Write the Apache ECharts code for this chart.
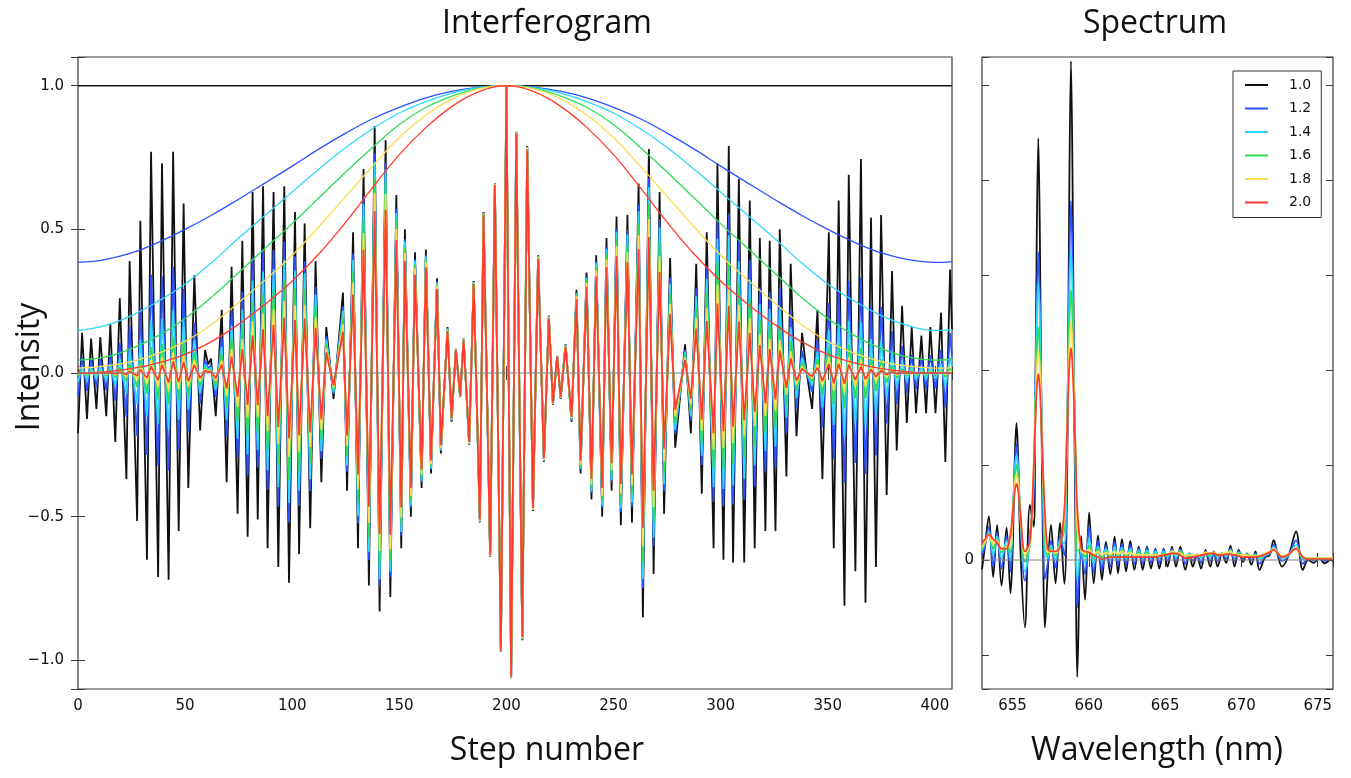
<!DOCTYPE html>
<html>
<head>
<meta charset="utf-8">
<script src="https://cdn.jsdelivr.net/npm/echarts@6/dist/echarts.min.js"></script>
<style>
  html, body { margin: 0; padding: 0; background: #ffffff; }
  #chart { width: 1351px; height: 778px; }
</style>
</head>
<body>
<div id="chart"></div>
<script>
// Apodization factors shown in the legend and the colour used for each.
const apodLabels = ['1.0', '1.2', '1.4', '1.6', '1.8', '2.0'];
const apodColors = ['#111111', '#2a52ff', '#2fd8ff', '#2edc55', '#ffdc50', '#ff3b2c'];

// Raw interferogram: step positions of its turning points and the intensity there.
const stepPositions = [
  0, 1.9, 4.2, 6.1, 8.6, 10.4, 13.2, 15.1, 17.4, 19.5,
  22.6, 24.1, 27.6, 29.1, 32.2, 34.1, 37.4, 39.2, 42.3, 44.4,
  47.0, 49.3, 51.5, 54.3, 57.0, 59.3, 60.8, 62.1, 64.3, 67.1,
  69.4, 71.7, 74.5, 76.7, 79.2, 81.5, 83.9, 86.4, 88.5, 91.3,
  93.5, 96.3, 98.5, 101.3, 103.2, 105.8, 108.4, 110.9, 113.6, 115.9,
  119.3, 123.7, 125.6, 128.4, 130.7, 133.3, 135.8, 138.5, 140.8, 143.6,
  145.8, 148.6, 150.9, 152.6, 155.4, 157.3, 160.4, 162.4, 164.8, 167.6,
  169.4, 172.5, 174.4, 176.4, 178.4, 180.0, 182.6, 184.7, 187.6, 189.3,
  192.4, 194.6, 197.4, 200, 202.2, 204.6, 207.4, 209.7, 212.4, 214.8,
  217.5, 219.8, 221.7, 223.7, 225.3, 227.6, 230.4, 232.7, 234.6, 237.4,
  239.7, 241.9, 244.7, 246.7, 249.1, 251.4, 253.4, 256.5, 258.6, 261.7,
  263.7, 266.5, 268.7, 271.5, 273.6, 276.4, 278.8, 283.4, 286.1, 288.6,
  291.2, 293.5, 296.7, 298.5, 301.3, 303.8, 305.8, 308.5, 311.0, 313.6,
  315.9, 318.3, 320.9, 322.9, 325.6, 327.6, 330.7, 332.7, 335.4, 338.0,
  340.0, 342.7, 345.2, 347.5, 350.5, 352.8, 355.1, 357.8, 359.8, 362.9,
  365.5, 367.6, 370.2, 372.5, 374.9, 377.5, 380.0, 382.2, 384.7, 386.9,
  389.2, 391.2, 393.7, 395.9, 397.9, 400.3, 402.9, 404.9, 407.1, 408
];
const rawInterferogram = [
  -0.21, 0.14, -0.16, 0.12, -0.125, 0.125, -0.15, 0.17, -0.24, 0.26,
  -0.37, 0.39, -0.515, 0.53, -0.65, 0.77, -0.71, 0.73, -0.72, 0.77,
  -0.55, 0.59, -0.40, 0.34, -0.20, 0.08, 0.03, 0.05, -0.15, 0.22,
  -0.38, 0.37, -0.49, 0.46, -0.57, 0.63, -0.51, 0.65, -0.61, 0.63,
  -0.675, 0.65, -0.73, 0.56, -0.63, 0.52, -0.54, 0.39, -0.38, 0.16,
  -0.09, 0.28, -0.41, 0.49, -0.61, 0.71, -0.74, 0.86, -0.83, 0.81,
  -0.78, 0.62, -0.61, 0.50, -0.50, 0.42, -0.40, 0.43, -0.35, 0.33,
  -0.28, 0.16, -0.17, 0.084, -0.084, 0.12, -0.25, 0.32, -0.52, 0.56,
  -0.64, 0.66, -0.97, 1.0, -1.06, 0.84, -0.93, 0.79, -0.48, 0.41,
  -0.31, 0.20, -0.11, 0.06, -0.09, 0.10, -0.17, 0.29, -0.35, 0.35,
  -0.44, 0.41, -0.50, 0.47, -0.41, 0.545, -0.53, 0.55, -0.52, 0.66,
  -0.85, 0.78, -0.70, 0.63, -0.49, 0.40, -0.26, 0.10, -0.21, 0.38,
  -0.42, 0.49, -0.61, 0.73, -0.65, 0.79, -0.66, 0.675, -0.66, 0.60,
  -0.61, 0.47, -0.55, 0.46, -0.55, 0.50, -0.36, 0.38, -0.22, 0.14,
  0.01, -0.125, 0.22, -0.37, 0.49, -0.61, 0.60, -0.81, 0.69, -0.69,
  0.745, -0.80, 0.54, -0.675, 0.55, -0.425, 0.355, -0.27, 0.234, -0.174,
  0.16, -0.14, 0.13, -0.14, 0.16, -0.14, 0.21, -0.31, 0.36, 0.15
];

// Apodization windows, tabulated along the step axis (symmetric about step 200).
const windowSteps = [
  0, 12.5, 25, 37.5, 50, 62.5, 75, 87.5, 100, 112.5, 125, 137.5, 150, 162.5, 175, 187.5, 200,
  212.5, 225, 237.5, 250, 262.5, 275, 287.5, 300, 312.5, 325, 337.5, 350, 362.5, 375, 387.5, 400, 408
];
const window10 = windowSteps.map(() => 1);
const window12 = [
  0.385, 0.395, 0.418, 0.455, 0.50, 0.55, 0.605, 0.662, 0.72, 0.78, 0.835, 0.885, 0.925, 0.958, 0.981, 0.995, 1.0,
  0.995, 0.981, 0.958, 0.925, 0.885, 0.835, 0.78, 0.72, 0.662, 0.605, 0.55, 0.50, 0.455, 0.418, 0.395, 0.385, 0.388
];
const window14 = [
  0.148, 0.165, 0.20, 0.25, 0.31, 0.385, 0.47, 0.55, 0.63, 0.71, 0.785, 0.85, 0.905, 0.945, 0.975, 0.994, 1.0,
  0.994, 0.975, 0.945, 0.905, 0.85, 0.785, 0.71, 0.63, 0.55, 0.47, 0.385, 0.31, 0.25, 0.20, 0.165, 0.148, 0.151
];
const window16 = [
  0.045, 0.055, 0.085, 0.13, 0.19, 0.265, 0.35, 0.435, 0.52, 0.61, 0.70, 0.785, 0.865, 0.925, 0.965, 0.992, 1.0,
  0.992, 0.965, 0.925, 0.865, 0.785, 0.70, 0.61, 0.52, 0.435, 0.35, 0.265, 0.19, 0.13, 0.085, 0.055, 0.045, 0.047
];
const window18 = [
  0.017, 0.024, 0.04, 0.068, 0.11, 0.17, 0.245, 0.325, 0.41, 0.51, 0.615, 0.72, 0.82, 0.898, 0.955, 0.99, 1.0,
  0.99, 0.955, 0.898, 0.82, 0.72, 0.615, 0.51, 0.41, 0.325, 0.245, 0.17, 0.11, 0.068, 0.04, 0.024, 0.017, 0.018
];
const window20 = [
  0.0, 0.004, 0.015, 0.035, 0.065, 0.11, 0.17, 0.24, 0.32, 0.415, 0.525, 0.645, 0.76, 0.855, 0.93, 0.98, 1.0,
  0.98, 0.93, 0.855, 0.76, 0.645, 0.525, 0.415, 0.32, 0.24, 0.17, 0.11, 0.065, 0.035, 0.015, 0.004, 0.0, 0.001
];

// Spectra obtained with each window.
const wavelengthNm = [
  653.00, 653.20, 653.45, 653.73, 653.99, 654.28, 654.61, 654.87, 655.00, 655.10,
  655.18, 655.26, 655.34, 655.42, 655.52, 655.81, 656.14, 656.39, 656.49, 656.59,
  656.69, 656.79, 656.89, 656.99, 657.12, 657.30, 657.52, 657.82, 658.11, 658.40,
  658.53, 658.63, 658.73, 658.83, 658.93, 659.03, 659.13, 659.24, 659.50, 659.75,
  660.02, 660.32, 660.60, 660.86, 661.12, 661.41, 661.69, 661.91, 662.17, 662.44,
  662.72, 662.98, 663.27, 663.53, 663.81, 664.07, 664.36, 664.62, 664.90, 665.16,
  665.45, 665.71, 666.00, 666.32, 666.59, 666.81, 667.09, 667.35, 667.64, 667.96,
  668.19, 668.44, 668.73, 669.00, 669.28, 669.55, 669.82, 670.10, 670.37, 670.65,
  670.92, 671.18, 671.55, 671.85, 672.11, 672.38, 672.66, 673.10, 673.58, 674.02,
  674.37, 674.74, 675.07, 675.46, 675.83, 676.00
];
const spectrum10 = [
  -0.10, 0.15, 0.46, -0.18, 0.37, -0.27, 0.34, -0.35, 0.05, 0.75,
  1.22, 1.44, 1.22, 0.75, 0.10, -0.71, 0.58, 0.35, 1.60, 3.44,
  4.44, 3.44, 1.60, 0.20, -0.71, -0.15, 0.37, -0.245, 0.39, -0.25,
  0.25, 1.89, 4.07, 5.25, 4.07, 1.89, 0.25, -1.23, 0.25, -0.42,
  0.50, -0.245, 0.26, -0.21, 0.19, -0.15, 0.245, -0.14, 0.22, -0.12,
  0.20, -0.105, 0.14, -0.105, 0.14, -0.09, 0.12, -0.09, 0.12, -0.07,
  0.14, -0.07, 0.14, -0.105, 0.07, -0.07, 0.05, -0.09, 0.105, -0.07,
  0.09, -0.07, 0.07, -0.03, 0.15, -0.07, 0.105, -0.02, 0.07, -0.05,
  0.09, -0.105, 0.03, 0.05, 0.21, 0.05, -0.07, 0.05, 0.30, -0.105,
  0.0, -0.03, 0.02, -0.035, 0.0, -0.01
];
const spectrum12 = [
  0.05, 0.15, 0.35, -0.07, 0.29, -0.09, 0.25, -0.12, 0.38, 0.78,
  1.09, 1.22, 1.09, 0.78, 0.38, -0.22, 0.27, 0.68, 1.62, 2.72,
  3.24, 2.72, 1.62, 0.68, -0.20, -0.05, 0.20, -0.08, 0.25, 0.05,
  0.79, 1.89, 3.18, 3.78, 3.18, 1.89, 0.79, -0.50, 0.10, -0.15,
  0.36, -0.13, 0.20, -0.11, 0.15, -0.07, 0.19, -0.06, 0.17, -0.05,
  0.16, -0.04, 0.12, -0.04, 0.12, -0.03, 0.11, -0.03, 0.11, -0.01,
  0.12, -0.01, 0.11, -0.04, 0.07, -0.01, 0.06, -0.03, 0.09, -0.01,
  0.08, -0.01, 0.07, 0.01, 0.12, -0.01, 0.09, 0.01, 0.06, 0.0,
  0.07, -0.04, 0.04, 0.06, 0.16, 0.06, -0.01, 0.05, 0.21, -0.04,
  0.01, 0.0, 0.02, -0.01, 0.01, 0.01
];
const spectrum14 = [
  0.10, 0.18, 0.30, 0.05, 0.25, 0.02, 0.20, 0.0, 0.44, 0.77,
  1.01, 1.10, 1.01, 0.77, 0.44, -0.12, 0.20, 0.85, 1.69, 2.55,
  2.93, 2.55, 1.69, 0.85, 0.05, 0.02, 0.15, 0.0, 0.20, 0.18,
  0.95, 1.89, 2.85, 3.27, 2.85, 1.89, 0.95, -0.20, 0.10, -0.04,
  0.23, -0.04, 0.14, -0.02, 0.12, 0.0, 0.14, 0.0, 0.13, 0.01,
  0.12, 0.02, 0.10, 0.02, 0.10, 0.02, 0.09, 0.02, 0.09, 0.03,
  0.10, 0.03, 0.10, 0.02, 0.07, 0.03, 0.06, 0.02, 0.08, 0.03,
  0.08, 0.03, 0.07, 0.04, 0.11, 0.03, 0.08, 0.04, 0.06, 0.03,
  0.06, 0.01, 0.05, 0.07, 0.14, 0.07, 0.02, 0.05, 0.16, 0.01,
  0.02, 0.01, 0.02, 0.01, 0.02, 0.02
];
const spectrum16 = [
  0.12, 0.19, 0.28, 0.12, 0.22, 0.08, 0.15, 0.08, 0.47, 0.75,
  0.93, 1.00, 0.93, 0.75, 0.47, -0.02, 0.17, 0.90, 1.57, 2.19,
  2.45, 2.19, 1.57, 0.90, 0.22, 0.05, 0.12, 0.05, 0.17, 0.33,
  1.05, 1.82, 2.54, 2.84, 2.54, 1.82, 1.05, 0.10, 0.10, 0.03,
  0.15, 0.02, 0.11, 0.03, 0.09, 0.04, 0.10, 0.04, 0.10, 0.04,
  0.09, 0.04, 0.08, 0.04, 0.08, 0.04, 0.07, 0.04, 0.07, 0.05,
  0.09, 0.06, 0.09, 0.04, 0.06, 0.04, 0.05, 0.04, 0.08, 0.05,
  0.08, 0.05, 0.07, 0.06, 0.09, 0.05, 0.07, 0.05, 0.06, 0.04,
  0.05, 0.03, 0.06, 0.08, 0.12, 0.07, 0.03, 0.06, 0.13, 0.02,
  0.02, 0.02, 0.02, 0.02, 0.02, 0.02
];
const spectrum18 = [
  0.13, 0.19, 0.27, 0.17, 0.20, 0.11, 0.14, 0.14, 0.48, 0.71,
  0.85, 0.90, 0.85, 0.71, 0.48, 0.05, 0.18, 0.96, 1.52, 2.01,
  2.20, 2.01, 1.52, 0.96, 0.40, 0.08, 0.10, 0.07, 0.15, 0.43,
  1.10, 1.73, 2.28, 2.50, 2.28, 1.73, 1.10, 0.35, 0.10, 0.07,
  0.11, 0.06, 0.09, 0.05, 0.08, 0.06, 0.09, 0.06, 0.09, 0.06,
  0.08, 0.05, 0.06, 0.05, 0.06, 0.05, 0.06, 0.05, 0.06, 0.06,
  0.09, 0.08, 0.07, 0.04, 0.05, 0.05, 0.05, 0.05, 0.08, 0.07,
  0.08, 0.06, 0.07, 0.07, 0.09, 0.06, 0.06, 0.05, 0.05, 0.04,
  0.04, 0.04, 0.07, 0.09, 0.12, 0.08, 0.04, 0.06, 0.13, 0.03,
  0.02, 0.02, 0.02, 0.02, 0.02, 0.02
];
const spectrum20 = [
  0.18, 0.22, 0.27, 0.22, 0.18, 0.12, 0.12, 0.28, 0.47, 0.66,
  0.76, 0.80, 0.76, 0.66, 0.48, 0.09, 0.20, 0.98, 1.44, 1.81,
  1.96, 1.81, 1.44, 0.98, 0.50, 0.12, 0.09, 0.09, 0.13, 0.54,
  1.12, 1.64, 2.06, 2.23, 2.06, 1.64, 1.12, 0.55, 0.12, 0.09,
  0.08, 0.05, 0.03, 0.01, 0.02, 0.03, 0.03, 0.03, 0.03, 0.03,
  0.03, 0.03, 0.03, 0.03, 0.03, 0.03, 0.03, 0.04, 0.05, 0.06,
  0.07, 0.07, 0.05, 0.02, 0.02, 0.03, 0.04, 0.05, 0.06, 0.07,
  0.07, 0.05, 0.05, 0.06, 0.06, 0.05, 0.04, 0.03, 0.03, 0.03,
  0.03, 0.04, 0.06, 0.08, 0.11, 0.07, 0.03, 0.06, 0.12, 0.03,
  0.01, 0.01, 0.01, 0.01, 0.01, 0.01
];

const windows = [window10, window12, window14, window16, window18, window20];
const spectra = [spectrum10, spectrum12, spectrum14, spectrum16, spectrum18, spectrum20];

// Window value at an arbitrary step, from the tabulated window.
function windowAt(table, s) {
  for (let i = 1; i < windowSteps.length; i++) {
    if (s <= windowSteps[i]) {
      const t = (s - windowSteps[i - 1]) / (windowSteps[i] - windowSteps[i - 1]);
      return table[i - 1] + t * (table[i] - table[i - 1]);
    }
  }
  return table[table.length - 1];
}

const tickFont = 'DejaVu Sans';
const titleFont = '"Open Sans", "DejaVu Sans", sans-serif';
const frameColor = '#3a3a3a';

function fmtSigned(v) {
  return (v < 0 ? '\u2212' : '') + Math.abs(v).toFixed(1);
}

const chart = echarts.init(document.getElementById('chart'), null, { renderer: 'canvas' });

const series = [];

// Left panel: apodized interferograms (raw interferogram times each window).
apodLabels.forEach((name, k) => {
  series.push({
    name, type: 'line', xAxisIndex: 0, yAxisIndex: 0,
    data: stepPositions.map((s, i) => [s, rawInterferogram[i] * windowAt(windows[k], s)]),
    showSymbol: false, silent: true,
    lineStyle: { color: apodColors[k], width: 1.8 },
    itemStyle: { color: apodColors[k] },
    z: 2
  });
});
// Left panel: the window curves themselves.
apodLabels.forEach((name, k) => {
  series.push({
    name, type: 'line', xAxisIndex: 0, yAxisIndex: 0,
    data: windowSteps.map((s, i) => [s, windows[k][i]]),
    smooth: 0.4, showSymbol: false, silent: true,
    lineStyle: { color: apodColors[k], width: 1.3 },
    itemStyle: { color: apodColors[k] },
    z: 3
  });
});
// Zero reference of the interferogram.
series.push({
  type: 'line', xAxisIndex: 0, yAxisIndex: 0,
  data: [[0, 0], [408, 0]], showSymbol: false, silent: true,
  lineStyle: { color: '#808080', width: 1 }, z: 4
});

// Right panel: spectra.
apodLabels.forEach((name, k) => {
  series.push({
    name, type: 'line', xAxisIndex: 2, yAxisIndex: 2,
    data: wavelengthNm.map((w, i) => [w, spectra[k][i]]),
    smooth: 0.35, showSymbol: false, silent: true,
    lineStyle: { color: apodColors[k], width: 1.8 },
    itemStyle: { color: apodColors[k] },
    z: 2
  });
});
series.push({
  type: 'line', xAxisIndex: 2, yAxisIndex: 2,
  data: [[653, 0], [676, 0]], showSymbol: false, silent: true,
  lineStyle: { color: '#808080', width: 1 }, z: 4
});

const tickStyle = { show: true, inside: true, length: 7, lineStyle: { color: frameColor, width: 1 } };
const labelStyle = { color: '#111', fontFamily: tickFont, fontSize: 15 };

const option = {
  animation: false,
  backgroundColor: '#ffffff',
  grid: [
    { left: 78, top: 57, width: 874, height: 632, show: true, borderColor: frameColor, borderWidth: 1.2, backgroundColor: 'transparent' },
    { left: 982, top: 57, width: 351, height: 632, show: true, borderColor: frameColor, borderWidth: 1.2, backgroundColor: 'transparent' }
  ],
  xAxis: [
    { type: 'value', gridIndex: 0, position: 'bottom', min: 0, max: 408, interval: 50,
      axisLine: { show: false }, axisTick: tickStyle, splitLine: { show: false },
      axisLabel: Object.assign({ margin: 10, formatter: v => (v % 50 === 0 ? String(v) : '') }, labelStyle) },
    { type: 'value', gridIndex: 0, position: 'top', min: 0, max: 408, interval: 50,
      axisLine: { show: false }, axisTick: tickStyle, splitLine: { show: false }, axisLabel: { show: false } },
    { type: 'value', gridIndex: 1, position: 'bottom', min: 653, max: 676, splitNumber: 5,
      axisLine: { show: false }, axisTick: tickStyle, splitLine: { show: false },
      axisLabel: Object.assign({ margin: 10, formatter: v => (Math.abs(v % 5) < 1e-6 ? String(Math.round(v)) : '') }, labelStyle) },
    { type: 'value', gridIndex: 1, position: 'top', min: 653, max: 676, splitNumber: 5,
      axisLine: { show: false }, axisTick: tickStyle, splitLine: { show: false }, axisLabel: { show: false } }
  ],
  yAxis: [
    { type: 'value', gridIndex: 0, position: 'left', min: -1.1, max: 1.1, splitNumber: 4,
      axisLine: { show: false }, axisTick: tickStyle, splitLine: { show: false },
      axisLabel: Object.assign({ margin: 14, formatter: v => {
        const h = v * 2;
        if (Math.abs(h - Math.round(h)) > 1e-6 || Math.abs(v) > 1.01) return '';
        return fmtSigned(v);
      } }, labelStyle) },
    { type: 'value', gridIndex: 0, position: 'right', min: -1.1, max: 1.1, splitNumber: 4,
      axisLine: { show: false }, axisTick: tickStyle, splitLine: { show: false }, axisLabel: { show: false } },
    { type: 'value', gridIndex: 1, position: 'left', min: -1.358, max: 5.295, splitNumber: 6,
      axisLine: { show: false }, axisTick: tickStyle, splitLine: { show: false },
      axisLabel: Object.assign({ margin: 8, formatter: v => (Math.abs(v) < 1e-9 ? '0' : '') }, labelStyle) },
    { type: 'value', gridIndex: 1, position: 'right', min: -1.358, max: 5.295, splitNumber: 6,
      axisLine: { show: false }, axisTick: tickStyle, splitLine: { show: false }, axisLabel: { show: false } }
  ],
  legend: {
    data: apodLabels,
    orient: 'vertical',
    left: 1233, top: 71,
    selectedMode: false,
    backgroundColor: '#ffffff',
    borderColor: '#333333', borderWidth: 1, borderRadius: 0,
    padding: [7, 10, 8, 12],
    icon: 'rect', itemWidth: 23, itemHeight: 2, itemGap: 9.5,
    textStyle: { fontFamily: tickFont, fontSize: 14, color: '#111', padding: [0, 0, 0, 16] }
  },
  graphic: [
    { type: 'text', x: 547, y: 24, style: { text: 'Interferogram', font: '32px ' + titleFont, fill: '#111', align: 'center', verticalAlign: 'middle' } },
    { type: 'text', x: 1155, y: 24, style: { text: 'Spectrum', font: '32px ' + titleFont, fill: '#111', align: 'center', verticalAlign: 'middle' } },
    { type: 'text', x: 547, y: 751, style: { text: 'Step number', font: '32px ' + titleFont, fill: '#111', align: 'center', verticalAlign: 'middle' } },
    { type: 'text', x: 1157, y: 751, style: { text: 'Wavelength (nm)', font: '32px ' + titleFont, fill: '#111', align: 'center', verticalAlign: 'middle' } },
    { type: 'text', x: 30, y: 367, rotation: Math.PI / 2, style: { text: 'Intensity', font: '32px ' + titleFont, fill: '#111', align: 'center', verticalAlign: 'middle' } }
  ],
  series
};

chart.setOption(option);
</script>
</body>
</html>
